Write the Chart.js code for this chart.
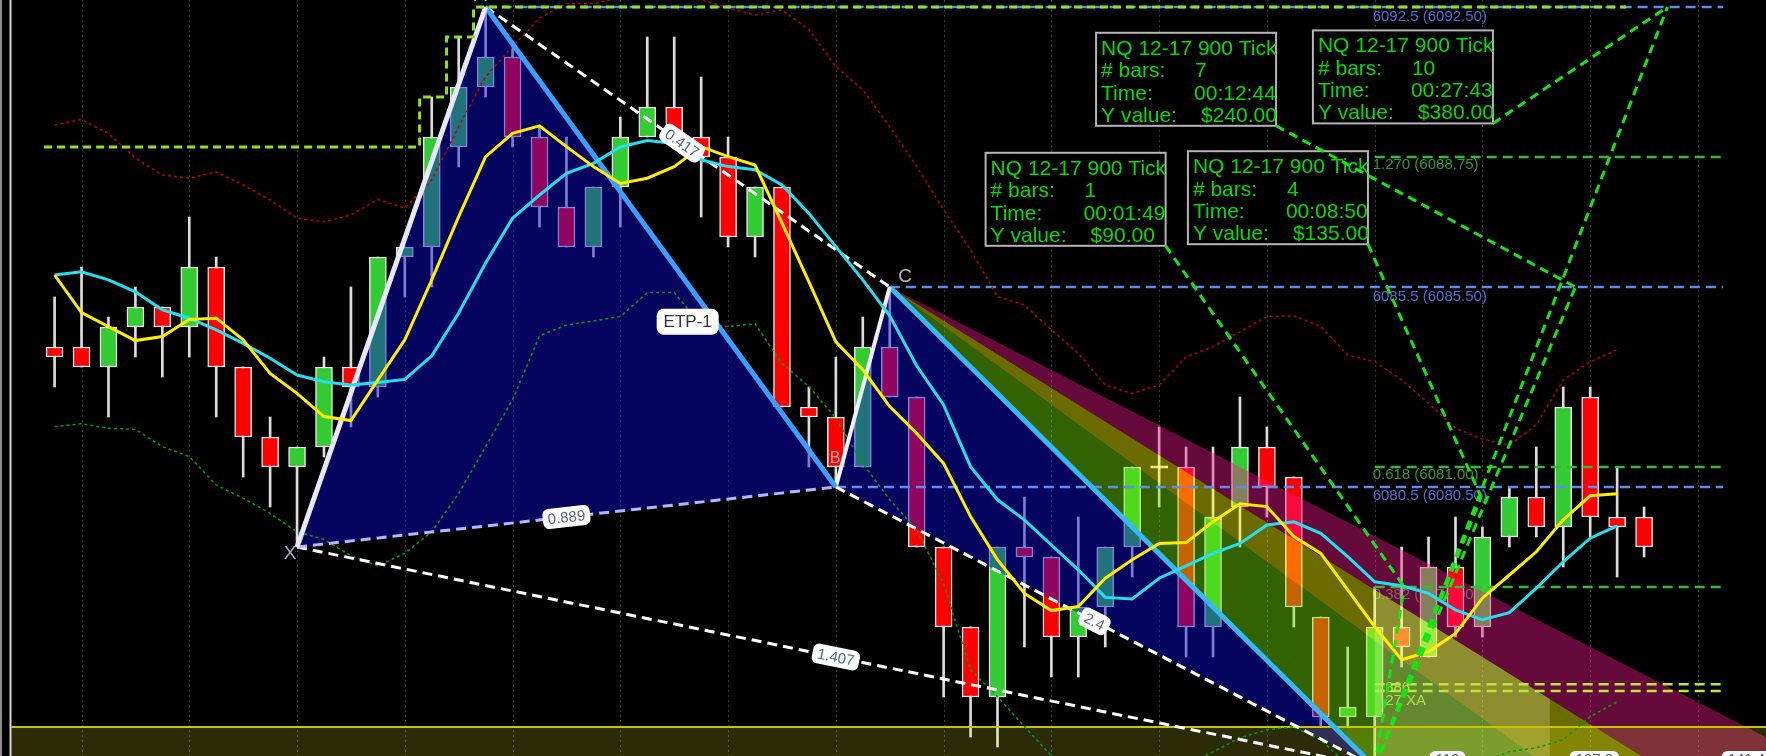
<!DOCTYPE html>
<html>
<head>
<meta charset="utf-8">
<title>NQ 12-17 900 Tick</title>
<script src="https://cdn.jsdelivr.net/npm/chart.js@4.4.0/dist/chart.umd.min.js"></script>
<style>
  html, body { margin: 0; padding: 0; background: #000; }
  #wrap { width: 1766px; height: 756px; }
</style>
</head>
<body>
<div id="wrap"><canvas id="chart" width="1766" height="756"></canvas></div>
<script>
// candles, one per 900-tick bar
const opens  = [6084.0, 6084.0, 6083.5, 6084.5, 6085.0, 6084.5, 6086.0, 6083.5, 6081.75, 6081.0,
                6081.5, 6083.5, 6083.0, 6086.25, 6086.5, 6089.0, 6090.5, 6091.25, 6089.25, 6087.5,
                6086.5, 6088.0, 6089.25, 6090.0, 6089.25, 6088.75, 6086.75, 6088.0, 6082.5, 6082.25,
                6081.0, 6084.0, 6082.75, 6079.0, 6077.0, 6075.25, 6079.0, 6078.75, 6076.75, 6077.5,
                6079.0, 6081.0, 6081.0, 6077.0, 6080.0, 6081.5, 6080.75, 6077.25, 6074.75, 6074.75,
                6077.0, 6076.25, 6078.5, 6077.0, 6079.25, 6080.25, 6079.5, 6082.75, 6079.75, 6079.75];
const highs  = [6085.25, 6086.0, 6084.75, 6085.5, 6085.0, 6087.25, 6086.25, 6083.5, 6082.25, 6081.5,
                6083.75, 6085.5, 6086.25, 6086.5, 6090.25, 6091.75, 6092.5, 6091.5, 6089.5, 6089.25,
                6088.0, 6089.75, 6091.75, 6091.75, 6090.75, 6089.25, 6088.0, 6088.0, 6083.0, 6083.75,
                6084.75, 6085.5, 6082.75, 6079.0, 6077.0, 6079.0, 6080.25, 6078.75, 6079.75, 6079.0,
                6081.0, 6082.0, 6081.5, 6081.5, 6082.75, 6082.0, 6080.75, 6077.25, 6076.5, 6078.0,
                6079.0, 6079.25, 6079.75, 6079.5, 6080.5, 6081.5, 6083.0, 6083.0, 6081.0, 6080.0];
const lows   = [6083.0, 6083.5, 6082.25, 6083.75, 6083.25, 6083.75, 6082.25, 6080.75, 6080.0, 6079.0,
                6081.25, 6082.0, 6082.75, 6085.25, 6085.5, 6088.5, 6090.25, 6089.0, 6087.0, 6086.5,
                6086.25, 6087.0, 6089.25, 6089.25, 6087.25, 6086.5, 6086.25, 6082.5, 6081.0, 6080.5,
                6081.0, 6082.75, 6079.0, 6075.25, 6074.25, 6074.0, 6076.5, 6075.75, 6075.75, 6076.5,
                6078.25, 6080.0, 6076.25, 6076.25, 6079.0, 6079.75, 6077.0, 6074.5, 6074.5, 6073.5,
                6076.0, 6076.25, 6076.75, 6076.75, 6079.0, 6079.25, 6078.5, 6079.25, 6078.25, 6078.75];
const closes = [6083.75, 6083.5, 6084.5, 6085.0, 6084.5, 6086.0, 6083.5, 6081.75, 6081.0, 6081.5,
                6083.5, 6083.0, 6086.25, 6086.5, 6089.25, 6090.5, 6091.25, 6089.25, 6087.5, 6086.5,
                6088.0, 6089.25, 6090.0, 6089.25, 6088.75, 6086.75, 6088.0, 6082.5, 6082.25, 6081.0,
                6084.0, 6082.75, 6079.0, 6077.0, 6075.25, 6079.0, 6078.75, 6076.75, 6077.5, 6079.0,
                6081.0, 6081.0, 6077.0, 6079.75, 6081.5, 6080.5, 6077.5, 6074.75, 6075.0, 6077.0,
                6076.5, 6078.5, 6077.0, 6079.25, 6080.25, 6079.5, 6082.5, 6079.75, 6079.5, 6079.0];

// indicator lines (bar 0 .. 58)
const yellowMA = [6085.80, 6084.86, 6084.51, 6084.16, 6084.26, 6084.69, 6084.72, 6084.18, 6083.34, 6082.84,
                  6082.26, 6082.16, 6083.18, 6084.18, 6085.68, 6087.26, 6088.76, 6089.34, 6089.53, 6089.01,
                  6088.51, 6088.09, 6088.22, 6088.51, 6089.01, 6088.76, 6088.55, 6087.10, 6085.63, 6084.13,
                  6083.43, 6082.51, 6081.84, 6081.09, 6079.76, 6078.68, 6077.84, 6077.41, 6077.51, 6078.22,
                  6078.68, 6079.09, 6079.11, 6079.63, 6080.08, 6080.01, 6079.26, 6078.84, 6077.93, 6077.01,
                  6076.18, 6076.38, 6076.84, 6077.72, 6078.30, 6078.88, 6079.68, 6080.28, 6080.33];
const cyanMA = [6085.80, 6085.88, 6085.68, 6085.38, 6084.93, 6084.72, 6084.43, 6084.09, 6083.72, 6083.30,
                6083.13, 6083.05, 6083.11, 6083.19, 6083.78, 6084.85, 6086.10, 6087.22, 6087.80, 6088.34,
                6088.59, 6089.00, 6089.16, 6089.09, 6088.68, 6088.51, 6088.43, 6088.05, 6087.34, 6086.51,
                6085.68, 6084.78, 6083.53, 6082.55, 6081.01, 6080.18, 6079.68, 6079.05, 6078.43, 6077.74,
                6077.70, 6078.22, 6078.53, 6078.84, 6079.09, 6079.55, 6079.63, 6079.34, 6078.76, 6078.13,
                6078.03, 6077.84, 6077.43, 6077.18, 6077.36, 6077.97, 6078.63, 6079.22, 6079.53];
const upperBand = [6089.55, 6089.69, 6089.34, 6088.72, 6088.30, 6088.22, 6088.38, 6088.05, 6087.68, 6087.22,
                   6087.13, 6087.30, 6087.69, 6087.47, 6088.18, 6089.51, 6090.76, 6091.51, 6092.22, 6092.59,
                   6092.59, 6092.73, 6092.78, 6092.75, 6092.68, 6092.48, 6092.30, 6092.43, 6091.93, 6091.01,
                   6090.43, 6089.51, 6088.51, 6087.43, 6086.43, 6085.26, 6085.05, 6084.43, 6083.84, 6083.05,
                   6082.84, 6083.05, 6083.75, 6084.01, 6084.38, 6084.76, 6084.78, 6084.51, 6083.80, 6083.63,
                   6083.18, 6082.59, 6081.97, 6081.70, 6081.55, 6082.05, 6083.18, 6083.63, 6083.93];
const lowerBand = [6082.01, 6082.08, 6081.97, 6081.94, 6081.51, 6081.26, 6080.55, 6080.22, 6079.84, 6079.38,
                   6079.19, 6078.78, 6078.53, 6078.84, 6079.38, 6080.34, 6081.51, 6082.68, 6084.28, 6084.55,
                   6084.65, 6084.76, 6085.36, 6085.36, 6084.55, 6084.51, 6084.58, 6083.59, 6083.01, 6082.22,
                   6081.09, 6080.18, 6079.43, 6078.09, 6075.93, 6075.26, 6074.51, 6073.78, 6072.93, 6072.68,
                   6072.93, 6073.30, 6073.55, 6073.88, 6074.23, 6074.43, 6074.50, 6074.18, 6073.55, 6072.93,
                   6072.68, 6072.93, 6073.30, 6073.63, 6073.88, 6073.98, 6074.18, 6074.76, 6075.13];

// harmonic pattern X, A, B, C, D
const patternIdx   = [9, 16, 29, 31, 49];
const patternPrice = [6079.0, 6092.5, 6080.5, 6085.5, 6073.5];

// fan rays from C: outer magenta edge, magenta/yellow, yellow/green, CD extension
const fanEndIdx = 66;
const fanEndPrice = [6073.39, 6070.79, 6068.32, 6062.17];
const przIdx = [49, 55.5];
const przTop = [6077.93, 6075.20];
const przBottom = 6073.0;

// horizontal levels
const levelPrices = [6092.5, 6085.5, 6080.5, 6088.75, 6081.0, 6078.0, 6075.57, 6075.4];
const levelStartIdx = [16, 31, 29, 49, 49, 49, 49, 49];
const levelEndIdx = 61.93;
const levelTexts = ['6092.5 (6092.50)', '6085.5 (6085.50)', '6080.5 (6080.50)', '1.270 (6088.75)',
                    '0.618 (6081.00)', '0.382 (6078.00)', '0.886', '1.27 XA'];
const levelKind = ['blue', 'blue', 'blue', 'green', 'green', 'green', 'lime', 'lime'];
const floorLevel = 6074.5;

// stepped high line
const stairIdx   = [-0.39, 13.55, 13.55, 14.55, 14.55, 15.55, 15.55, 58.33];
const stairPrice = [6089.0, 6089.0, 6090.25, 6090.25, 6091.75, 6091.75, 6092.5, 6092.5];

// measurement boxes (anchored at their bottom-right corner) and measured points
const boxBars = [7, 10, 1, 4];
const boxTimes = ['00:12:44', '00:27:43', '00:01:49', '00:08:50'];
const boxValues = ['$240.00', '$380.00', '$90.00', '$135.00'];
const boxAnchorIdx = [45.34, 53.39, 41.24, 48.75];
const boxAnchorPrice = [6089.53, 6089.59, 6086.53, 6086.57];
const measureIdx = [56.45, 59.87, 50.1, 52.95];
const measurePrice = [6085.5, 6092.5, 6078.0, 6080.25];

// ratio tags on pattern lines: [from, to] point numbers and position along the line
const ratioText = ['0.889', '0.417', '1.407', '2.4'];
const ratioPairs = [[0, 2], [1, 3], [0, 4], [2, 4]];
const ratioPos = [0.5, 0.486, 0.5, 0.48];

const bottomTagIdx = [51.7, 57.15, 62.8];
const bottomTagText = ['113', '127.2', '141.4'];

const FONT = '"Liberation Sans", Arial, sans-serif';

const seq = arr => arr.map((v, i) => ({x: i, y: v}));
const pt = i => ({x: patternIdx[i], y: patternPrice[i]});

function lineDs(data, color, width, dash, order) {
  return {type: 'line', data, borderColor: color, borderWidth: width, borderDash: dash || [],
          pointRadius: 0, fill: false, tension: 0, order};
}
function polyDs(data, color, order) {
  return {type: 'line', data, borderColor: 'rgba(0,0,0,0)', borderWidth: 1, pointRadius: 0,
          fill: 'shape', backgroundColor: color, tension: 0, order};
}

const bodyColors = opens.map((o, i) => closes[i] > o ? '#33cc33' : (closes[i] < o ? '#ff0000' : '#ffffff'));
const C = pt(3);
const datasets = [];

// candles
datasets.push({type: 'bar', data: lows.map((l, i) => ({x: i, y: [l, highs[i]]})),
  backgroundColor: '#dcdcdc', barThickness: 2, grouped: false, order: 100});
datasets.push({type: 'bar', data: opens.map((o, i) => ({x: i, y: o === closes[i] ? [o - 0.03, o + 0.03] : [o, closes[i]]})),
  backgroundColor: bodyColors, borderColor: opens.map((o, i) => o === closes[i] ? '#ffffff' : '#e6e6e6'),
  borderWidth: 1.5, borderSkipped: false, barThickness: 17, grouped: false, order: 99});

// pattern fills
datasets.push(polyDs([pt(0), pt(1), pt(2)], 'rgba(10,10,210,0.46)', 90));
datasets.push(polyDs([pt(2), pt(3), pt(4)], 'rgba(10,10,210,0.46)', 90));

// fan bands from C
datasets.push(polyDs([C, {x: fanEndIdx, y: fanEndPrice[0]}, {x: fanEndIdx, y: fanEndPrice[1]}], 'rgba(243,24,143,0.42)', 88));
datasets.push(polyDs([C, {x: fanEndIdx, y: fanEndPrice[1]}, {x: fanEndIdx, y: fanEndPrice[2]}], 'rgba(255,255,0,0.42)', 88));
datasets.push(polyDs([C, {x: fanEndIdx, y: fanEndPrice[2]}, {x: fanEndIdx, y: fanEndPrice[3]}], 'rgba(118,235,0,0.42)', 88));
datasets.push(polyDs([{x: przIdx[0], y: przTop[0]}, {x: przIdx[1], y: przTop[1]},
                      {x: przIdx[1], y: przBottom}, {x: przIdx[0], y: przBottom}], 'rgba(255,255,200,0.24)', 87));

// floor band
datasets.push({type: 'line', data: [{x: -2, y: floorLevel}, {x: 66, y: floorLevel}], borderColor: '#c8c400',
  borderWidth: 2, pointRadius: 0, fill: 'start', backgroundColor: 'rgba(255,255,40,0.17)', order: 85});

// horizontal levels
const levelColor = {blue: '#5b8def', green: '#33bb33', lime: '#b8e83c'};
levelPrices.forEach((p, i) => {
  datasets.push(lineDs([{x: levelStartIdx[i], y: p}, {x: levelEndIdx, y: p}], levelColor[levelKind[i]], 2.5, [10, 6], 60));
});

// envelope bands
datasets.push(lineDs(seq(upperBand), '#c00000', 1.5, [3, 3], 50));
datasets.push(lineDs(seq(lowerBand), '#00a000', 1.5, [3, 3], 50));

// pattern legs and dashed ratio lines
datasets.push(lineDs([pt(0), pt(2)], '#b4b4ff', 3, [10, 6], 35));
datasets.push(lineDs([pt(1), pt(3)], '#ffffff', 3, [10, 6], 35));
datasets.push(lineDs([pt(0), pt(4)], '#ffffff', 3, [10, 6], 35));
datasets.push(lineDs([pt(2), pt(4)], '#ffffff', 3, [10, 6], 35));
datasets.push(lineDs([pt(0), pt(1)], '#e8e8ff', 5, [], 34));
datasets.push(lineDs([pt(1), pt(2)], '#3aa0ff', 5, [], 34));
datasets.push(lineDs([pt(2), pt(3)], '#f0f0ff', 4, [], 34));
datasets.push(lineDs([pt(3), pt(4)], '#38b8f0', 5, [], 34));

// moving averages
datasets.push(lineDs(seq(cyanMA), '#22e0f0', 3, [], 31));
datasets.push(lineDs(seq(yellowMA), '#ffee00', 3, [], 30));

// stepped high line
datasets.push(lineDs(stairIdx.map((v, i) => ({x: v, y: stairPrice[i]})), '#8fe31a', 3, [8, 5], 20));

// measurement lines
measureIdx.forEach((m, i) => {
  datasets.push(lineDs([pt(4), {x: m, y: measurePrice[i]}], '#14e614', 3, [9, 6], 10));
  datasets.push(lineDs([{x: boxAnchorIdx[i], y: boxAnchorPrice[i]}, {x: m, y: measurePrice[i]}], '#14e614', 3, [9, 6], 10));
});

function pill(ctx, cx, cy, w, h, r) {
  ctx.beginPath();
  ctx.moveTo(cx - w / 2 + r, cy - h / 2);
  ctx.arcTo(cx + w / 2, cy - h / 2, cx + w / 2, cy + h / 2, r);
  ctx.arcTo(cx + w / 2, cy + h / 2, cx - w / 2, cy + h / 2, r);
  ctx.arcTo(cx - w / 2, cy + h / 2, cx - w / 2, cy - h / 2, r);
  ctx.arcTo(cx - w / 2, cy - h / 2, cx + w / 2, cy - h / 2, r);
  ctx.closePath();
}

const overlay = {
  id: 'overlay',
  beforeDatasetsDraw(chart) {
    const {ctx, chartArea: area, scales: {x, y}} = chart;
    ctx.save();
    ctx.fillStyle = '#8c8c8c';
    ctx.fillRect(0, 0, 2, chart.height);
    ctx.fillStyle = '#d6d6d6';
    ctx.fillRect(area.left - 1.5, 0, 2, chart.height);

    // dotted time grid every 4 bars
    ctx.strokeStyle = '#3a3a3a';
    ctx.lineWidth = 1;
    ctx.setLineDash([2, 3]);
    for (let v = 1; v <= x.max; v += 4) {
      const px = Math.round(x.getPixelForValue(v)) + 0.5;
      ctx.beginPath(); ctx.moveTo(px, area.top); ctx.lineTo(px, area.bottom); ctx.stroke();
    }
    ctx.setLineDash([]);

    // level captions
    const textColor = {blue: '#4a6fd8', green: '#2f9a2f', lime: '#a8c63a'};
    const textOffset = [10, 10, 9, 8, 8, 8, 4, 10];
    ctx.font = '15px ' + FONT;
    ctx.textBaseline = 'middle';
    levelPrices.forEach((p, i) => {
      ctx.fillStyle = textColor[levelKind[i]];
      ctx.fillText(levelTexts[i], x.getPixelForValue(49) - 2, y.getPixelForValue(p) + textOffset[i]);
    });

    // measurement boxes
    ctx.textBaseline = 'alphabetic';
    ctx.font = '21px ' + FONT;
    boxBars.forEach((n, i) => {
      const r = x.getPixelForValue(boxAnchorIdx[i]), b = y.getPixelForValue(boxAnchorPrice[i]);
      const l = r - 180, t = b - 93;
      ctx.fillStyle = '#000';
      ctx.fillRect(l, t, 180, 93);
      ctx.strokeStyle = '#b4b4b4';
      ctx.lineWidth = 2;
      ctx.strokeRect(l, t, 180, 93);
      ctx.fillStyle = '#00dd00';
      ctx.fillText('NQ 12-17 900 Tick', l + 5, t + 22);
      ctx.fillText('# bars:', l + 5, t + 44.5);
      ctx.fillText(String(n), l + 99, t + 44.5);
      ctx.fillText('Time:', l + 5, t + 67);
      ctx.fillText(boxTimes[i], l + 98, t + 67);
      ctx.fillText('Y value:', l + 5, t + 89);
      ctx.fillText(boxValues[i], l + 105, t + 89);
    });
    ctx.restore();
  },
  afterDatasetsDraw(chart) {
    const {ctx, chartArea: area, scales: {x, y}} = chart;
    const P = i => ({px: x.getPixelForValue(patternIdx[i]), py: y.getPixelForValue(patternPrice[i])});
    ctx.save();

    // ratio tags along the dashed lines
    ctx.font = '15px ' + FONT;
    ratioText.forEach((txt, i) => {
      const a = P(ratioPairs[i][0]), b = P(ratioPairs[i][1]);
      const t = ratioPos[i];
      const cx = a.px + (b.px - a.px) * t, cy = a.py + (b.py - a.py) * t;
      const ang = Math.atan2(b.py - a.py, b.px - a.px);
      ctx.save();
      ctx.translate(cx, cy);
      ctx.rotate(ang);
      const w = ctx.measureText(txt).width + 10;
      ctx.fillStyle = '#ffffff';
      pill(ctx, 0, 0, w, 20, 6);
      ctx.fill();
      ctx.fillStyle = '#5b6680';
      ctx.textAlign = 'center';
      ctx.textBaseline = 'middle';
      ctx.fillText(txt, 0, 1);
      ctx.restore();
    });

    // ETP-1 tag
    const ex = x.getPixelForValue(23.5), ey = y.getPixelForValue(6084.63);
    ctx.font = '17px ' + FONT;
    ctx.fillStyle = '#ffffff';
    pill(ctx, ex, ey, 62, 26, 7);
    ctx.fill();
    ctx.fillStyle = '#333333';
    ctx.textAlign = 'center';
    ctx.textBaseline = 'middle';
    ctx.fillText('ETP-1', ex, ey + 1);

    // pattern point letters
    ctx.font = '19px ' + FONT;
    ctx.fillStyle = '#a8acc4';
    ctx.fillText('X', x.getPixelForValue(8.74), y.getPixelForValue(6078.83));
    ctx.fillStyle = '#b8b8b8';
    ctx.fillText('C', x.getPixelForValue(31.57), y.getPixelForValue(6085.75));
    ctx.fillText('A', x.getPixelForValue(15.8), y.getPixelForValue(6092.78));
    ctx.font = '16px ' + FONT;
    ctx.fillStyle = '#e0a8a8';
    ctx.fillText('B', x.getPixelForValue(28.97), y.getPixelForValue(6081.2));

    // time tags at the bottom edge
    ctx.font = '15px ' + FONT;
    bottomTagText.forEach((txt, i) => {
      const cx = x.getPixelForValue(bottomTagIdx[i]);
      const w = ctx.measureText(txt).width + 12;
      ctx.fillStyle = '#ffffff';
      pill(ctx, cx, area.bottom + 6, w, 22, 6);
      ctx.fill();
      ctx.fillStyle = '#505868';
      ctx.textBaseline = 'top';
      ctx.fillText(txt, cx, area.bottom - 4);
    });
    ctx.restore();
  }
};

new Chart(document.getElementById('chart'), {
  type: 'line',
  data: {datasets},
  options: {
    responsive: false,
    animation: false,
    events: [],
    layout: {padding: {left: 11, right: 0, top: 0, bottom: 0}},
    plugins: {legend: {display: false}, tooltip: {enabled: false}},
    scales: {
      x: {type: 'linear', display: false, offset: false, min: -1.618, max: 63.526},
      y: {type: 'linear', display: false, beginAtZero: false, min: 6073.775, max: 6092.675}
    }
  },
  plugins: [overlay]
});
</script>
</body>
</html>
